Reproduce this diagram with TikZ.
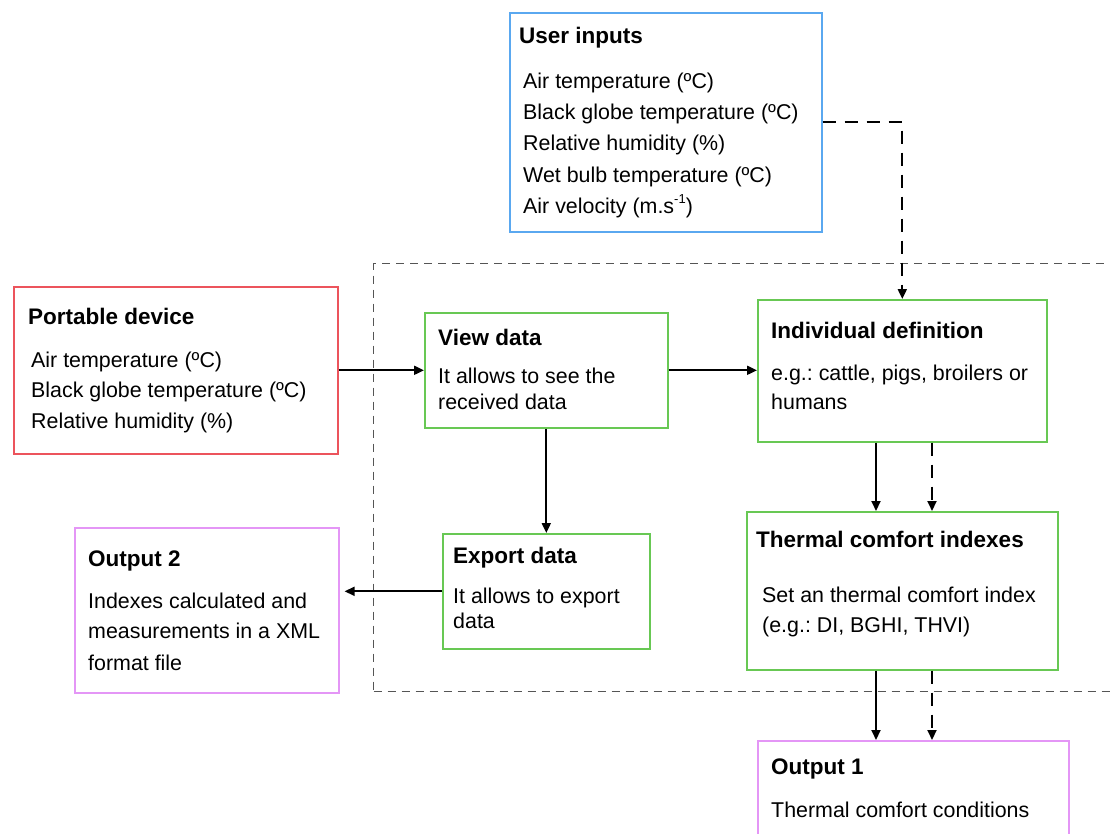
\documentclass[tikz,border=0pt]{standalone}
\usepackage{fontspec}
\setmainfont{Liberation Sans}
\usetikzlibrary{arrows.meta}
\definecolor{cblue}{RGB}{90,168,240}
\definecolor{cred}{RGB}{236,84,92}
\definecolor{cgreen}{RGB}{104,200,84}
\definecolor{cpink}{RGB}{228,150,246}
\definecolor{cgray}{RGB}{85,85,85}
\frenchspacing
\begin{document}
\begin{tikzpicture}[x=1pt,y=-1pt,
  box/.style={draw=#1, line width=1.6pt, rectangle, inner sep=0pt, anchor=north west},
  ttl/.style={anchor=base west, inner sep=0pt, font=\fontsize{22.5}{27}\selectfont\bfseries},
  txt/.style={anchor=base west, inner sep=0pt, font=\fontsize{21.4}{26}\selectfont},
  arr/.style={line width=1.9pt, -{Triangle[length=10pt,width=9pt]}},
  darr/.style={arr, dash pattern=on 13pt off 9pt},
]
\useasboundingbox (0,0) rectangle (1110,833);
\fill[white] (0,0) rectangle (1110,833);

% dashed group
\node[draw=cgray, line width=1.3pt, dash pattern=on 8pt off 6pt, rectangle, inner sep=0pt, anchor=north west,
  minimum width=760pt, minimum height=428pt] (group) at (373,263) {};

% boxes
\node[box=cblue, minimum width=312pt, minimum height=219pt] (user) at (509,12) {};
\node[box=cred, minimum width=324pt, minimum height=167pt] (port) at (13,286) {};
\node[box=cgreen, minimum width=243pt, minimum height=115pt] (view) at (424,312) {};
\node[box=cgreen, minimum width=289pt, minimum height=142pt] (ind) at (757,299) {};
\node[box=cgreen, minimum width=207pt, minimum height=115pt] (export) at (442,533) {};
\node[box=cpink, minimum width=264pt, minimum height=165pt] (out2) at (74,527) {};
\node[box=cgreen, minimum width=311pt, minimum height=158pt] (therm) at (746,511) {};
\node[box=cpink, minimum width=311pt, minimum height=130pt] (out1) at (757,740) {};

% texts
\node[ttl] (user-t) at (519,43) {User inputs};
\node[txt] (user-1) at (523,88) {Air temperature (ºC)};
\node[txt] (user-2) at (523,119) {Black globe temperature (ºC)};
\node[txt] (user-3) at (523,150) {Relative humidity (\%)};
\node[txt] (user-4) at (523,182) {Wet bulb temperature (ºC)};
\node[txt] (user-5) at (523,213) {Air velocity (m.s\raisebox{0.45em}{\fontsize{13}{13}\selectfont -1})};

\node[ttl] (port-t) at (28,324) {Portable device};
\node[txt] (port-1) at (31,367) {Air temperature (ºC)};
\node[txt] (port-2) at (31,397) {Black globe temperature (ºC)};
\node[txt] (port-3) at (31,428) {Relative humidity (\%)};

\node[ttl] (view-t) at (438,345) {View data};
\node[txt] (view-1) at (438,383) {It allows to see the};
\node[txt] (view-2) at (438,409) {received data};

\node[ttl] (ind-t) at (771,338) {Individual definition};
\node[txt] (ind-1) at (771,380) {e.g.: cattle, pigs, broilers or};
\node[txt] (ind-2) at (771,409) {humans};

\node[ttl] (export-t) at (453,563) {Export data};
\node[txt] (export-1) at (453,603) {It allows to export};
\node[txt] (export-2) at (453,628) {data};

\node[ttl] (out2-t) at (88,566) {Output 2};
\node[txt] (out2-1) at (88,608) {Indexes calculated and};
\node[txt] (out2-2) at (88,638) {measurements in a XML};
\node[txt] (out2-3) at (88,670) {format file};

\node[ttl] (therm-t) at (756,547) {Thermal comfort indexes};
\node[txt] (therm-1) at (762,602) {Set an thermal comfort index};
\node[txt] (therm-2) at (762,632) {(e.g.: DI, BGHI, THVI)};

\node[ttl] (out1-t) at (771,774) {Output 1};
\node[txt] (out1-1) at (771,817) {Thermal comfort conditions};

% connector x positions
\coordinate (sx) at (876,0);
\coordinate (dx) at (932,0);

% connectors
\draw[arr] (port.east) -- (port.east -| view.west);
\draw[arr] (view.east) -- (view.east -| ind.west);
\draw[arr] (view.south) -- (view.south |- export.north);
\draw[arr, shorten >=5pt] (export.west) -- (export.west -| out2.east);
\draw[darr] (user.east) -| (ind.north);
\draw[arr] (ind.south -| sx) -- (therm.north -| sx);
\draw[darr] (ind.south -| dx) -- (therm.north -| dx);
\draw[arr] (therm.south -| sx) -- (out1.north -| sx);
\draw[darr] (therm.south -| dx) -- (out1.north -| dx);
\end{tikzpicture}
\end{document}
